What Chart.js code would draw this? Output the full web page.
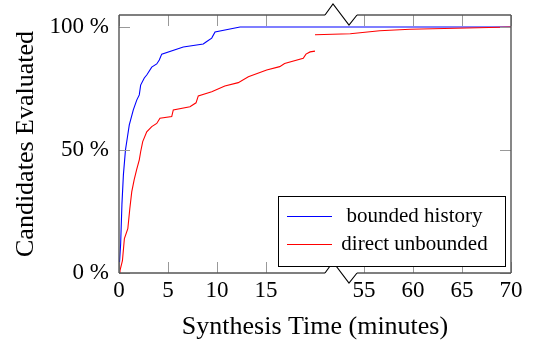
<!DOCTYPE html>
<html>
<head>
<meta charset="utf-8">
<script src="https://cdn.jsdelivr.net/npm/chart.js@4.4.1/dist/chart.umd.min.js"></script>
<style>
  html, body { margin: 0; background: #fff; }
</style>
</head>
<body>
<canvas id="chart" width="534" height="344"></canvas>
<script>
// Synthesis time (minutes) vs. share of candidates evaluated (%)
const boundedTime = [0, 0.05, 0.17, 0.3, 0.45, 0.66, 0.85, 1.05, 1.46, 1.81, 2.07, 2.21, 2.58, 2.83, 3.34, 3.85, 4.11, 4.36, 6.56, 8.6, 8.88, 9.46, 9.8, 12.35, 70];
const boundedPct  = [0, 4, 12, 28, 40, 50, 55, 60.2, 66.3, 70.3, 72.4, 76.4, 79.3, 80.5, 83.7, 85, 86.6, 89, 91.9, 93.1, 93.9, 95.5, 98, 100, 100];

// direct unbounded has no samples between 20 and 50 minutes
const directTime = [0, 0.1, 0.35, 0.55, 0.9, 1.1, 1.3, 1.55, 1.8, 2.07, 2.21, 2.42, 2.83, 3.34, 3.85, 4.18, 5.38, 5.54, 7.24, 7.86, 8.09, 9.46, 10.8, 12.17, 13.2, 15.07, 16.4, 16.9, 18.8, 19.08, 19.5, 20,
                    50, 53.6, 56.6, 59.7, 65.5, 70];
const directPct  = [0, 1, 5, 14, 18, 26, 33, 38, 42, 46, 49.3, 53.4, 57.4, 59.5, 60.8, 62.9, 63.6, 66.3, 67.6, 69.2, 72, 73.7, 76, 77.4, 79.8, 82.5, 83.9, 85.2, 87.3, 89, 89.9, 90.2,
                    96.9, 97.3, 98.5, 99.1, 99.6, 100];

const xTickLabels = [0, 5, 10, 15, 55, 60, 65, 70];
const yTickValues = [0, 50, 100];
const seriesNames = ['bounded history', 'direct unbounded'];

// broken x axis: 20..50 minutes is cut out
const breakFrom = 20, breakTo = 50;
const shift = (t) => (t >= breakTo ? t - (breakTo - breakFrom) : t);

function toPoints(times, pcts, splitAtBreak) {
  const pts = [];
  times.forEach((t, i) => {
    if (splitAtBreak && i > 0 && times[i - 1] < breakTo && t >= breakTo) pts.push({ x: shift(t), y: null });
    pts.push({ x: shift(t), y: pcts[i] });
  });
  return pts;
}

const SERIF = "'Liberation Serif', 'DejaVu Serif', serif";
const AXIS = '#555';
const TICK = '#999';

const framePlugin = {
  id: 'frame',
  afterDraw(chart) {
    const { ctx, chartArea: a } = chart;
    const xs = chart.scales.x, ys = chart.scales.y;
    const b = xs.getPixelForValue(breakFrom);
    const zig = [[10, 0], [18, -11], [34, 10], [42, 0]];

    ctx.save();
    // tick marks, inside the box
    ctx.strokeStyle = TICK;
    ctx.lineWidth = 1;
    ctx.beginPath();
    xTickLabels.forEach((v) => {
      const px = Math.round(xs.getPixelForValue(shift(v))) + 0.5;
      ctx.moveTo(px, a.top); ctx.lineTo(px, a.top + 11);
      ctx.moveTo(px, a.bottom); ctx.lineTo(px, a.bottom - 11);
    });
    yTickValues.forEach((v) => {
      const py = Math.round(ys.getPixelForValue(v)) + 0.5;
      ctx.moveTo(a.left, py); ctx.lineTo(a.left + 11, py);
      ctx.moveTo(a.right, py); ctx.lineTo(a.right - 11, py);
    });
    ctx.stroke();

    // box with the break
    ctx.strokeStyle = AXIS;
    ctx.lineWidth = 1.4;
    ctx.beginPath();
    ctx.moveTo(a.left, a.top); ctx.lineTo(a.left, a.bottom);
    ctx.moveTo(a.right, a.top); ctx.lineTo(a.right, a.bottom);
    [a.top, a.bottom].forEach((y) => {
      ctx.moveTo(a.left, y); ctx.lineTo(b + zig[0][0], y);
      ctx.moveTo(b + zig[3][0], y); ctx.lineTo(a.right, y);
    });
    ctx.stroke();

    ctx.strokeStyle = '#000';
    ctx.lineWidth = 1.1;
    [a.top, a.bottom].forEach((y) => {
      ctx.beginPath();
      zig.forEach(([dx, dy], i) => (i ? ctx.lineTo(b + dx, y + dy) : ctx.moveTo(b + dx, y + dy)));
      ctx.stroke();
    });

    // legend, south east inside the plot
    const lx = 278, ly = 196, lw = 227, lh = 70;
    ctx.fillStyle = '#fff';
    ctx.fillRect(lx, ly, lw, lh);
    ctx.strokeStyle = '#000';
    ctx.lineWidth = 1;
    ctx.strokeRect(lx + 0.5, ly + 0.5, lw, lh);
    ctx.font = '21px ' + SERIF;
    ctx.textAlign = 'center';
    ctx.textBaseline = 'middle';
    chart.data.datasets.forEach((ds, i) => {
      const y = ly + 20 + i * 28;
      ctx.strokeStyle = ds.borderColor;
      ctx.beginPath();
      ctx.moveTo(lx + 9, y + 0.5); ctx.lineTo(lx + 54, y + 0.5);
      ctx.stroke();
      ctx.fillStyle = '#000';
      ctx.fillText(ds.label, 414.5, y);
    });
    ctx.restore();
  }
};

new Chart(document.getElementById('chart'), {
  type: 'line',
  data: {
    datasets: [
      { label: seriesNames[0], data: toPoints(boundedTime, boundedPct, false), borderColor: '#0000ff', order: 1 },
      { label: seriesNames[1], data: toPoints(directTime, directPct, true), borderColor: '#ff0000', order: 0 }
    ]
  },
  options: {
    responsive: false,
    devicePixelRatio: 1,
    animation: false,
    layout: { padding: { left: 0, right: 23, top: 15, bottom: 0 } },
    elements: {
      line: { borderWidth: 1.1, tension: 0, fill: false },
      point: { radius: 0 }
    },
    spanGaps: false,
    plugins: { legend: { display: false }, tooltip: { enabled: false } },
    scales: {
      x: {
        type: 'linear',
        min: 0,
        max: shift(70),
        grid: { display: false, drawTicks: false },
        border: { display: false },
        afterBuildTicks: (s) => { s.ticks = xTickLabels.map((v) => ({ value: shift(v) })); },
        afterFit: (s) => { s.height = 71; s.paddingLeft = 0; s.paddingRight = 0; },
        ticks: {
          autoSkip: false,
          maxRotation: 0,
          padding: 4,
          color: '#000',
          font: { family: SERIF, size: 23 },
          callback: (v, i) => xTickLabels[i]
        },
        title: {
          display: true,
          text: 'Synthesis Time (minutes)',
          color: '#000',
          font: { family: SERIF, size: 26 },
          padding: 1
        }
      },
      y: {
        min: 0,
        max: 104.9,
        grid: { display: false, drawTicks: false },
        border: { display: false },
        afterBuildTicks: (s) => { s.ticks = yTickValues.map((v) => ({ value: v })); },
        afterFit: (s) => { s.width = 119; s.paddingTop = 0; s.paddingBottom = 0; },
        ticks: {
          padding: 10,
          color: '#000',
          font: { family: SERIF, size: 23 },
          callback: (v) => v + ' %'
        },
        title: {
          display: true,
          text: 'Candidates Evaluated',
          color: '#000',
          font: { family: SERIF, size: 26 },
          padding: 11
        }
      }
    }
  },
  plugins: [framePlugin]
});
</script>
</body>
</html>
